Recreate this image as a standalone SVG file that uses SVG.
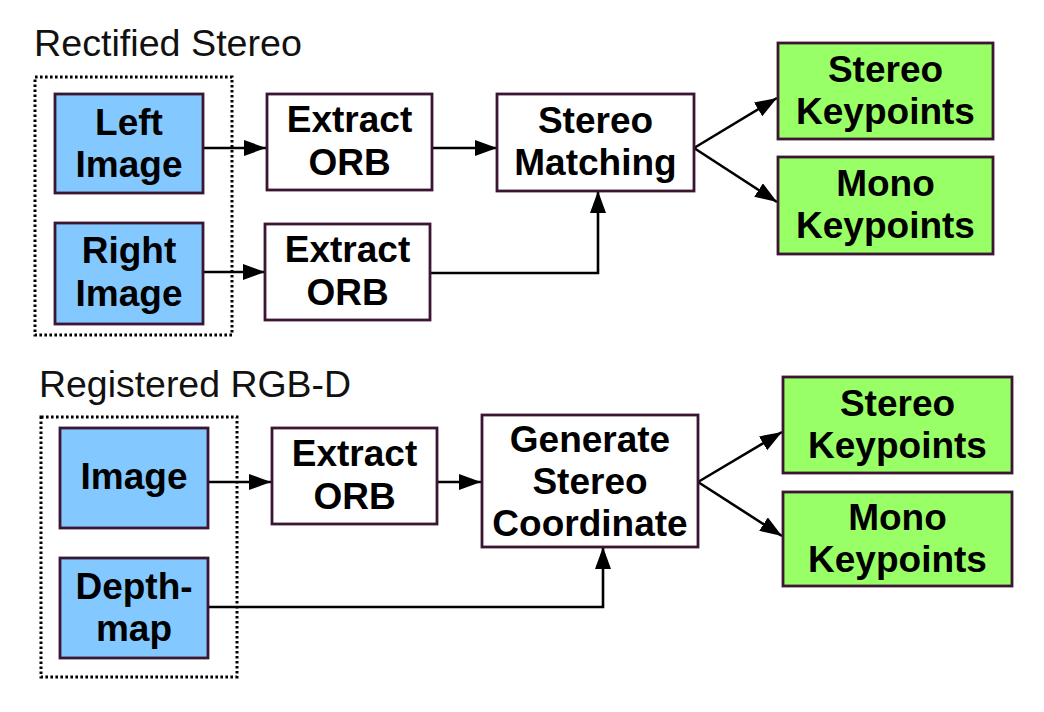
<svg xmlns="http://www.w3.org/2000/svg" width="1044" height="712" viewBox="0 0 1044 712">
<defs>
<style>
.in{fill:#83c9ff;stroke:#3a1632;stroke-width:2.8}
.pr{fill:#ffffff;stroke:#3a1632;stroke-width:2.8}
.out{fill:#99ff66;stroke:#3a1632;stroke-width:2.8}
.grp{fill:none;stroke:#000;stroke-width:3;stroke-dasharray:2.6 2.4}
.t{font-family:"Liberation Sans",Arial,sans-serif;font-weight:bold;font-size:37px;fill:#000;text-anchor:middle}
.h{font-family:"Liberation Sans",Arial,sans-serif;font-size:36px;fill:#111}
.c{fill:none;stroke:#000;stroke-width:2.6;marker-end:url(#ah)}
</style>
<marker id="ah" markerUnits="userSpaceOnUse" markerWidth="24" markerHeight="18" refX="22" refY="8" orient="auto">
<path d="M0,0 L22,8 L0,16 Z" fill="#000"/>
</marker>
</defs>
<rect width="1044" height="712" fill="#fff"/>

<g id="title-stereo"><text class="h" x="34" y="56" textLength="268" lengthAdjust="spacingAndGlyphs">Rectified Stereo</text></g>
<g id="title-rgbd"><text class="h" x="39" y="397" textLength="312" lengthAdjust="spacingAndGlyphs">Registered RGB-D</text></g>

<g id="group-stereo"><rect class="grp" x="35" y="77" width="197" height="258"/></g>
<g id="group-rgbd"><rect class="grp" x="41" y="417" width="196" height="260"/></g>

<g id="connectors">
<path class="c" d="M203,148 L266,148"/>
<path class="c" d="M203,272 L265,272"/>
<path class="c" d="M432,148 L497,148"/>
<path class="c" d="M430,273 L598,273 L598,191"/>
<path class="c" d="M694,148 L777,98"/>
<path class="c" d="M694,148 L777,202"/>
<path class="c" d="M208,482 L271,482"/>
<path class="c" d="M437,482 L481,482"/>
<path class="c" d="M208,607 L603,607 L603,547"/>
<path class="c" d="M698,482 L782,432"/>
<path class="c" d="M698,482 L782,536"/>
</g>

<g id="left-image"><rect class="in" x="55" y="94" width="148" height="99"/><text class="t" x="129" y="135">Left</text><text class="t" x="129" y="177">Image</text></g>
<g id="right-image"><rect class="in" x="55" y="223" width="148" height="101"/><text class="t" x="129" y="263">Right</text><text class="t" x="129" y="306">Image</text></g>
<g id="extract-orb-1"><rect class="pr" x="267" y="94" width="165" height="96"/><text class="t" x="349.5" y="132">Extract</text><text class="t" x="349.5" y="175">ORB</text></g>
<g id="extract-orb-2"><rect class="pr" x="265" y="224" width="165" height="96"/><text class="t" x="347.5" y="262">Extract</text><text class="t" x="347.5" y="305">ORB</text></g>
<g id="stereo-matching"><rect class="pr" x="497" y="94" width="197" height="97"/><text class="t" x="595.5" y="133">Stereo</text><text class="t" x="595.5" y="175">Matching</text></g>
<g id="stereo-keypoints-1"><rect class="out" x="778" y="43" width="215" height="96"/><text class="t" x="885.5" y="82">Stereo</text><text class="t" x="885.5" y="124">Keypoints</text></g>
<g id="mono-keypoints-1"><rect class="out" x="778" y="157" width="215" height="97"/><text class="t" x="885.5" y="196">Mono</text><text class="t" x="885.5" y="238">Keypoints</text></g>

<g id="image"><rect class="in" x="60" y="428" width="148" height="100"/><text class="t" x="134" y="489">Image</text></g>
<g id="depth-map"><rect class="in" x="60" y="558" width="148" height="100"/><text class="t" x="134" y="599">Depth-</text><text class="t" x="134" y="641">map</text></g>
<g id="extract-orb-3"><rect class="pr" x="272" y="428" width="165" height="96"/><text class="t" x="354.5" y="466">Extract</text><text class="t" x="354.5" y="509">ORB</text></g>
<g id="generate-stereo-coordinate"><rect class="pr" x="482" y="415" width="216" height="132"/><text class="t" x="590" y="452">Generate</text><text class="t" x="590" y="494">Stereo</text><text class="t" x="590" y="536">Coordinate</text></g>
<g id="stereo-keypoints-2"><rect class="out" x="783" y="377" width="229" height="96"/><text class="t" x="897.5" y="416">Stereo</text><text class="t" x="897.5" y="458">Keypoints</text></g>
<g id="mono-keypoints-2"><rect class="out" x="783" y="492" width="229" height="94"/><text class="t" x="897.5" y="530">Mono</text><text class="t" x="897.5" y="572">Keypoints</text></g>
</svg>
